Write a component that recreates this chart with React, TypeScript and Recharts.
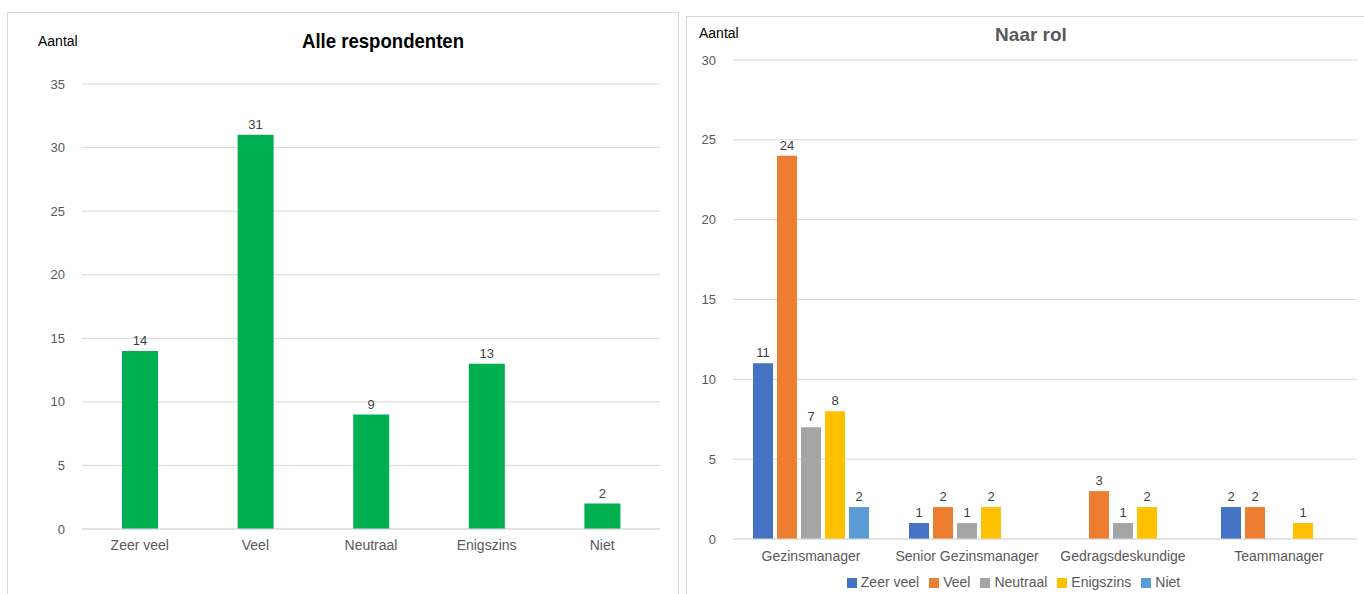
import { BarChart, Bar, XAxis, YAxis, CartesianGrid, Legend, LabelList } from 'recharts'

// Alle respondenten
const answers = ['Zeer veel', 'Veel', 'Neutraal', 'Enigszins', 'Niet']
const totals = [14, 31, 9, 13, 2]
const leftTicks = [0, 5, 10, 15, 20, 25, 30, 35]

// Naar rol
const roles = ['Gezinsmanager', 'Senior Gezinsmanager', 'Gedragsdeskundige', 'Teammanager']
const zeerVeel = [11, 1, null, 2]
const veel = [24, 2, 3, 2]
const neutraal = [7, 1, 1, null]
const enigszins = [8, 2, 2, 1]
const niet = [2, null, null, null]
const rightTicks = [0, 5, 10, 15, 20, 25, 30]

const seriesColors = ['#4472C4', '#ED7D31', '#A5A5A5', '#FFC000', '#5B9BD5']

const leftData = answers.map((a, i) => ({ answer: a, total: totals[i] }))
const rightData = roles.map((r, i) => ({
  role: r,
  'Zeer veel': zeerVeel[i],
  Veel: veel[i],
  Neutraal: neutraal[i],
  Enigszins: enigszins[i],
  Niet: niet[i],
}))
const seriesKeys = ['Zeer veel', 'Veel', 'Neutraal', 'Enigszins', 'Niet']

const tickStyle = { fill: '#595959', fontSize: 13 }
const catTickStyle = { fill: '#595959', fontSize: 14 }

const ValueLabel = (props: any) => {
  const { x, y, width, value } = props
  if (value === null || value === undefined) return null
  return (
    <text x={Number(x) + Number(width) / 2} y={Number(y) - 6} textAnchor="middle" fill="#404040" fontSize={13}>
      {value}
    </text>
  )
}

export default function App() {
  return (
    <div
      style={{
        position: 'absolute', left: 0, top: 0, width: 1364, height: 594, overflow: 'hidden',
        background: '#fff', fontFamily: '"Liberation Sans", Arial, sans-serif',
      }}
    >
      <div style={{ position: 'absolute', left: 7, top: 12, width: 670, height: 600, border: '1px solid #d9d9d9' }} />
      <div style={{ position: 'absolute', left: 686, top: 16, width: 700, height: 600, border: '1px solid #d9d9d9' }} />

      <div style={{ position: 'absolute', left: 0, top: 0 }}>
        <BarChart width={680} height={594} data={leftData} margin={{ top: 84, right: 20, bottom: 35, left: 0 }}>
          <CartesianGrid vertical={false} stroke="#d9d9d9" />
          <XAxis dataKey="answer" height={30} tickLine={false} tickSize={0} tickMargin={11}
            axisLine={{ stroke: '#d9d9d9' }} tick={catTickStyle} interval={0} />
          <YAxis width={82} domain={[0, 35]} ticks={leftTicks} axisLine={false} tickLine={false}
            tickSize={0} tickMargin={17} tick={tickStyle} />
          <Bar dataKey="total" fill="#00B050" barSize={36} isAnimationActive={false}>
            <LabelList dataKey="total" content={ValueLabel} />
          </Bar>
        </BarChart>
      </div>

      <div style={{ position: 'absolute', left: 680, top: 0 }}>
        <BarChart width={684} height={594} data={rightData} barCategoryGap={20} barGap={4}
          margin={{ top: 60, right: 7, bottom: 25, left: 0 }}>
          <CartesianGrid vertical={false} stroke="#d9d9d9" />
          <XAxis dataKey="role" height={30} tickLine={false} tickSize={0} tickMargin={12}
            axisLine={{ stroke: '#d9d9d9' }} tick={catTickStyle} interval={0} />
          <YAxis width={53} domain={[0, 30]} ticks={rightTicks} axisLine={false} tickLine={false}
            tickSize={0} tickMargin={17} tick={tickStyle} />
          <Legend verticalAlign="middle" align="center" layout="horizontal" iconType="square" iconSize={10}
            wrapperStyle={{ top: 574, fontSize: 14 }}
            itemSorter={(item: any) => seriesKeys.indexOf(item.value)}
            formatter={(v: any) => <span style={{ color: '#595959' }}>{v}</span>} />
          {seriesKeys.map((k, i) => (
            <Bar key={k} dataKey={k} fill={seriesColors[i]} isAnimationActive={false}>
              <LabelList dataKey={k} content={ValueLabel} />
            </Bar>
          ))}
        </BarChart>
      </div>

      <svg width={1364} height={594} style={{ position: 'absolute', left: 0, top: 0, pointerEvents: 'none' }}>
        <text x={38} y={46} fontSize={14} fill="#000">Aantal</text>
        <text x={383} y={48} textAnchor="middle" fontSize={21} fontWeight="bold" fill="#000"
          textLength={162} lengthAdjust="spacingAndGlyphs">Alle respondenten</text>
        <text x={699} y={38} fontSize={14} fill="#000">Aantal</text>
        <text x={1031} y={41} textAnchor="middle" fontSize={19} fontWeight="bold" fill="#595959">Naar rol</text>
      </svg>
    </div>
  )
}
